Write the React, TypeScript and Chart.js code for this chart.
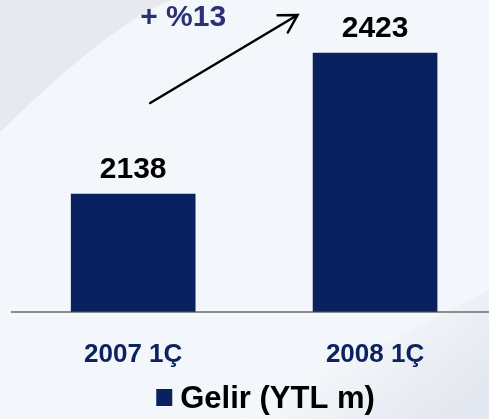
import { useEffect, useRef } from "react";
import { Chart, registerables } from "chart.js";

Chart.register(...registerables);

const categories = ["2007 1Ç", "2008 1Ç"];
const revenue = [2138, 2423];
const seriesLabel = "Gelir (YTL m)";
const growthLabel = "+ %13";
const yMin = 1900;
const yMax = 2510;

const BAR = "#0a215f";
const FONT = "'Liberation Sans', Arial, sans-serif";
const CW = 496;
const CH = 419;

const backgroundPlugin = {
  id: "bg",
  beforeDraw(chart: any) {
    const { ctx, width, height } = chart;
    ctx.save();
    ctx.fillStyle = "#f3f7fb";
    ctx.fillRect(0, 0, width, height);
    ctx.fillStyle = "#e8e9ef";
    ctx.beginPath();
    ctx.moveTo(0, 0);
    ctx.lineTo(0, 132);
    ctx.quadraticCurveTo(115, 20, 172, 0);
    ctx.closePath();
    ctx.fill();
    const g = ctx.createLinearGradient(330, 330, 420, 440);
    g.addColorStop(0, "#f7f9fc");
    g.addColorStop(1, "#e3e7ef");
    ctx.fillStyle = g;
    ctx.beginPath();
    ctx.moveTo(240, height);
    ctx.lineTo(489, 290);
    ctx.lineTo(width, 290);
    ctx.lineTo(width, height);
    ctx.closePath();
    ctx.fill();
    ctx.restore();
  },
};

const annotatePlugin = {
  id: "annot",
  afterDatasetsDraw(chart: any) {
    const { ctx } = chart;
    const meta = chart.getDatasetMeta(0);
    const bars = meta.data;
    ctx.save();
    ctx.font = `bold 30px ${FONT}`;
    ctx.fillStyle = "#000";
    ctx.textAlign = "center";
    ctx.textBaseline = "alphabetic";
    bars.forEach((b: any, i: number) => {
      ctx.fillText(String(chart.data.datasets[0].data[i]), b.x, b.y - 16);
    });
    // arrow
    const b1 = bars[0];
    const b2 = bars[1];
    const sx = b1.x + 17, sy = b1.y - 91;
    const ex = b2.x - 77.5, ey = b2.y - 38;
    ctx.strokeStyle = "#000";
    ctx.lineWidth = 2.5;
    ctx.lineCap = "round";
    ctx.beginPath();
    ctx.moveTo(sx, sy);
    ctx.lineTo(ex, ey);
    const ang = Math.atan2(ey - sy, ex - sx);
    const hl = 20;
    const a = Math.PI / 6;
    ctx.moveTo(ex - hl * Math.cos(ang - a), ey - hl * Math.sin(ang - a));
    ctx.lineTo(ex, ey);
    ctx.lineTo(ex - hl * Math.cos(ang + a), ey - hl * Math.sin(ang + a));
    ctx.stroke();
    ctx.fillStyle = "#2b3077";
    ctx.font = `bold 30px ${FONT}`;
    ctx.textBaseline = "alphabetic";
    ctx.fillText(growthLabel, sx + 33, ey + 11);
    ctx.restore();
  },
  afterDraw(chart: any) {
    const { ctx, chartArea } = chart;
    ctx.save();
    const x0 = chartArea.left + 144;
    const y0 = 389;
    ctx.fillStyle = BAR;
    ctx.fillRect(x0, y0, 16, 17);
    ctx.fillStyle = "#000";
    ctx.font = `bold 31px ${FONT}`;
    ctx.textAlign = "left";
    ctx.textBaseline = "alphabetic";
    ctx.fillText(chart.data.datasets[0].label, x0 + 24, y0 + 19);
    ctx.restore();
  },
};

export default function App() {
  const ref = useRef<HTMLCanvasElement | null>(null);
  useEffect(() => {
    if (!ref.current) return;
    const chart = new Chart(ref.current, {
      type: "bar",
      data: {
        labels: categories,
        datasets: [
          {
            label: seriesLabel,
            data: revenue,
            backgroundColor: BAR,
            barThickness: 124,
          },
        ],
      },
      options: {
        animation: false,
        responsive: false,
        devicePixelRatio: 1,
        layout: { padding: { left: 12.25, right: 0, top: 10, bottom: 22 } },
        plugins: {
          legend: { display: false },
          tooltip: { enabled: false },
        },
        scales: {
          x: {
            grid: { display: false, drawTicks: false },
            border: { display: true, color: "#8c8c8c", width: 2 },
            ticks: {
              color: "#0d2361",
              padding: 27,
              font: { family: FONT, size: 26, weight: "bold" },
            },
          },
          y: {
            display: false,
            min: yMin,
            max: yMax,
          },
        },
      },
      plugins: [backgroundPlugin, annotatePlugin],
    });
    return () => chart.destroy();
  }, []);
  return (
    <div style={{ position: "fixed", left: 0, top: 0, width: 489, height: 419, overflow: "hidden" }}>
      <canvas ref={ref} width={CW} height={CH} style={{ width: CW, height: CH, display: "block" }} />
    </div>
  );
}
